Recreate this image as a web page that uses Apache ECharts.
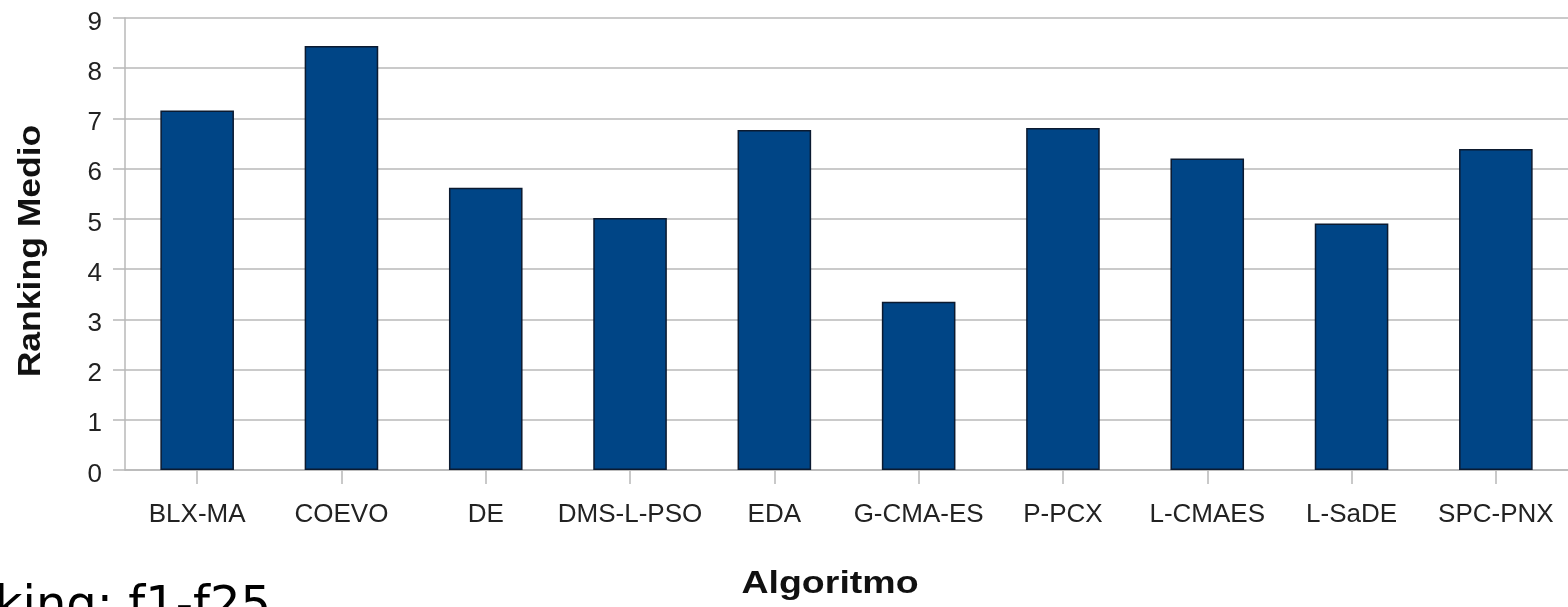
<!DOCTYPE html>
<html>
<head>
<meta charset="utf-8">
<title>Ranking Medio por Algoritmo</title>
<script src="https://cdn.jsdelivr.net/npm/echarts@6/dist/echarts.min.js"></script>
<style>
  html, body { margin: 0; padding: 0; background: #ffffff; }
  #chart { width: 1568px; height: 607px; }
</style>
</head>
<body>
<div id="chart"></div>
<script>
// Algorithms compared on functions f1-f25
const algorithms = ['BLX-MA', 'COEVO', 'DE', 'DMS-L-PSO', 'EDA', 'G-CMA-ES', 'P-PCX', 'L-CMAES', 'L-SaDE', 'SPC-PNX'];
// Mean ranking of each algorithm
const meanRanking = [7.16, 8.44, 5.62, 5.02, 6.77, 3.35, 6.81, 6.20, 4.91, 6.39];
// Value axis tick labels
const yTickLabels = ['0', '1', '2', '3', '4', '5', '6', '7', '8', '9'];

const chart = echarts.init(document.getElementById('chart'), null, { renderer: 'canvas' });

const labelFont = 'Liberation Sans, Arial, sans-serif';
const gridColor = '#b8b8b8';

chart.setOption({
  backgroundColor: '#ffffff',
  animation: false,
  grid: { left: 125, top: 18, width: 1450, height: 452, containLabel: false },
  xAxis: {
    type: 'category',
    data: algorithms,
    boundaryGap: true,
    axisLine: { show: true, lineStyle: { color: gridColor, width: 1.5 } },
    axisTick: { show: true, alignWithLabel: true, length: 14, lineStyle: { color: gridColor, width: 1.5 } },
    axisLabel: { color: '#222222', fontFamily: labelFont, fontSize: 26, margin: 32, interval: 0 },
    splitLine: { show: false }
  },
  yAxis: {
    type: 'value',
    min: 0,
    max: 9,
    interval: 1,
    axisLine: { show: true, lineStyle: { color: gridColor, width: 1.5 } },
    axisTick: { show: true, length: 12, lineStyle: { color: gridColor, width: 1.5 } },
    axisLabel: {
      color: '#222222', fontFamily: labelFont, fontSize: 26, margin: 23,
      formatter: (v) => '{t|' + yTickLabels[v] + '}',
      rich: {
        t: { color: '#222222', fontFamily: labelFont, fontSize: 26, padding: [9, 0, 0, 0] }
      }
    },
    splitLine: { show: true, lineStyle: { color: gridColor, width: 1.5 } }
  },
  series: [{
    type: 'bar',
    data: meanRanking,
    barWidth: '51%',
    itemStyle: { color: '#004586', borderColor: '#0b1a30', borderWidth: 1.5 }
  }],
  graphic: [
    {
      type: 'text',
      x: 31, y: 251,
      rotation: Math.PI / 2,
      scaleX: 1.11,
      style: {
        text: 'Ranking Medio',
        font: 'bold 32px Liberation Sans, Arial, sans-serif',
        fill: '#111111',
        textAlign: 'center',
        textVerticalAlign: 'middle'
      }
    },
    {
      type: 'text',
      x: 830, y: 584,
      scaleX: 1.21,
      style: {
        text: 'Algoritmo',
        font: 'bold 31px Liberation Sans, Arial, sans-serif',
        fill: '#111111',
        textAlign: 'center',
        textVerticalAlign: 'middle'
      }
    },
    {
      type: 'text',
      x: 271, y: 632,
      style: {
        text: 'Ranking: f1-f25',
        font: '48px DejaVu Sans, sans-serif',
        fill: '#000000',
        textAlign: 'right',
        textVerticalAlign: 'bottom'
      }
    }
  ]
});
</script>
</body>
</html>
